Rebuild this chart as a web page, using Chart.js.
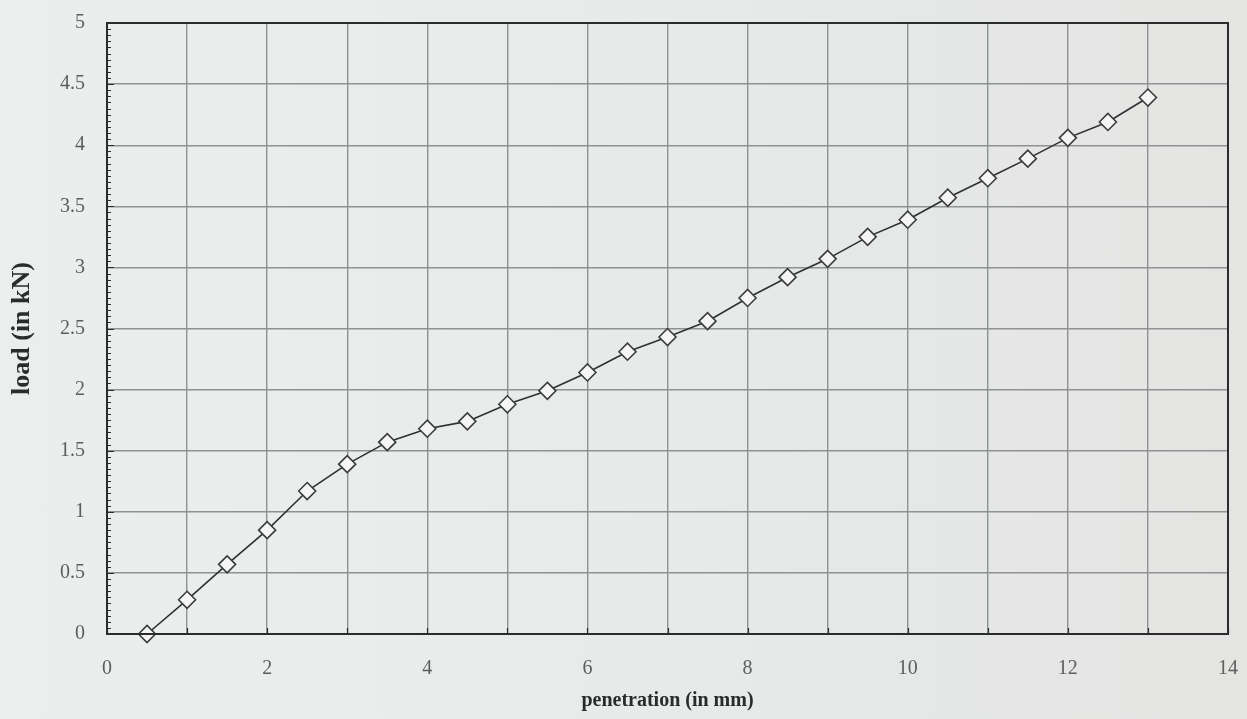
<!DOCTYPE html>
<html>
<head>
<meta charset="utf-8">
<script src="https://cdn.jsdelivr.net/npm/chart.js@4.4.1/dist/chart.umd.min.js"></script>
<style>
  html, body { margin: 0; padding: 0; }
  body {
    width: 1247px;
    height: 719px;
    background: linear-gradient(90deg, #eaefed 0%, #e8ebea 45%, #e4e5e3 100%);
  }
  #wrap { width: 1247px; height: 719px; }
</style>
</head>
<body>
<div id="wrap"><canvas id="chart"></canvas></div>
<script>
const penetration = [0.5, 1, 1.5, 2, 2.5, 3, 3.5, 4, 4.5, 5, 5.5, 6, 6.5, 7, 7.5, 8, 8.5, 9, 9.5, 10, 10.5, 11, 11.5, 12, 12.5, 13];
const load = [0, 0.28, 0.57, 0.85, 1.17, 1.39, 1.57, 1.68, 1.74, 1.88, 1.99, 2.14, 2.31, 2.43, 2.56, 2.75, 2.92, 3.07, 3.25, 3.39, 3.57, 3.73, 3.89, 4.06, 4.19, 4.39];
const xTicks = [0, 2, 4, 6, 8, 10, 12, 14];
const yTicks = [0, 0.5, 1, 1.5, 2, 2.5, 3, 3.5, 4, 4.5, 5];

const ctx = document.getElementById("chart");

const points = [];
for (let i = 0; i < penetration.length; i++) {
  points.push({ x: penetration[i], y: load[i] });
}

// frame + little inside tick marks like the printed chart
const frameTicks = {
  id: "frameTicks",
  afterDraw(chart) {
    const c = chart.ctx;
    const area = chart.chartArea;
    const xs = chart.scales.x;
    const ys = chart.scales.y;
    c.save();
    c.strokeStyle = "#2b2d2c";
    c.lineWidth = 1.2;
    c.beginPath();
    for (let v = 0; v <= 100; v++) {
      const val = v * 0.05;
      const py = Math.round(ys.getPixelForValue(val)) + 0.5;
      const len = v % 10 === 0 ? 7 : 4;
      c.moveTo(area.left, py);
      c.lineTo(area.left + len, py);
    }
    for (let v = 0; v <= 14; v++) {
      const px = Math.round(xs.getPixelForValue(v)) + 0.5;
      c.moveTo(px, area.bottom);
      c.lineTo(px, area.bottom - 6);
    }
    c.stroke();
    c.lineWidth = 2;
    c.strokeRect(area.left, area.top, area.right - area.left, area.bottom - area.top);
    c.restore();
  }
};

new Chart(ctx, {
  type: "scatter",
  data: {
    datasets: [
      {
        data: points,
        showLine: true,
        borderColor: "#2f3130",
        borderWidth: 1.6,
        pointStyle: "rectRot",
        pointRadius: 8.5,
        pointHoverRadius: 8.5,
        pointBackgroundColor: "#f4f5f4",
        pointBorderColor: "#3a3c3b",
        pointBorderWidth: 1.6,
        clip: false,
      },
    ],
  },
  options: {
    responsive: true,
    maintainAspectRatio: false,
    animation: false,
    layout: { padding: { top: 23, right: 19, left: 0, bottom: 0 } },
    plugins: {
      legend: { display: false },
      tooltip: { enabled: false },
    },
    scales: {
      x: {
        type: "linear",
        min: 0,
        max: 14,
        afterBuildTicks(scale) {
          const t = [];
          for (let v = 0; v <= 14; v++) t.push({ value: v });
          scale.ticks = t;
        },
        afterFit(scale) {
          scale.height = 85;
        },
        grid: {
          color: "#8f9291",
          lineWidth: 1.4,
          drawTicks: true,
          tickLength: 23,
          tickColor: "rgba(0,0,0,0)",
        },
        border: { display: false },
        ticks: {
          padding: 0,
          autoSkip: false,
          maxRotation: 0,
          color: "#5c5e5d",
          font: { family: "'Liberation Serif', 'DejaVu Serif', serif", size: 20 },
          callback: (value) => (xTicks.includes(value) ? String(value) : ""),
        },
        title: {
          display: true,
          text: "penetration (in mm)",
          color: "#2a2c2b",
          padding: { top: 0, bottom: 6 },
          font: { family: "'Liberation Serif', 'DejaVu Serif', serif", size: 20, weight: "bold" },
        },
      },
      y: {
        type: "linear",
        min: 0,
        max: 5,
        afterBuildTicks(scale) {
          scale.ticks = yTicks.map((v) => ({ value: v }));
        },
        afterFit(scale) {
          scale.width = 107;
        },
        grid: {
          color: "#8f9291",
          lineWidth: 1.4,
          drawTicks: true,
          tickLength: 22,
          tickColor: "rgba(0,0,0,0)",
        },
        border: { display: false },
        ticks: {
          padding: 0,
          color: "#5c5e5d",
          font: { family: "'Liberation Serif', 'DejaVu Serif', serif", size: 20 },
          callback: (value) => String(value),
        },
        title: {
          display: true,
          text: "load (in kN)",
          color: "#2a2c2b",
          padding: { top: 7, bottom: 0 },
          font: { family: "'Liberation Serif', 'DejaVu Serif', serif", size: 26, weight: "bold" },
        },
      },
    },
  },
  plugins: [frameTicks],
});
</script>
</body>
</html>
